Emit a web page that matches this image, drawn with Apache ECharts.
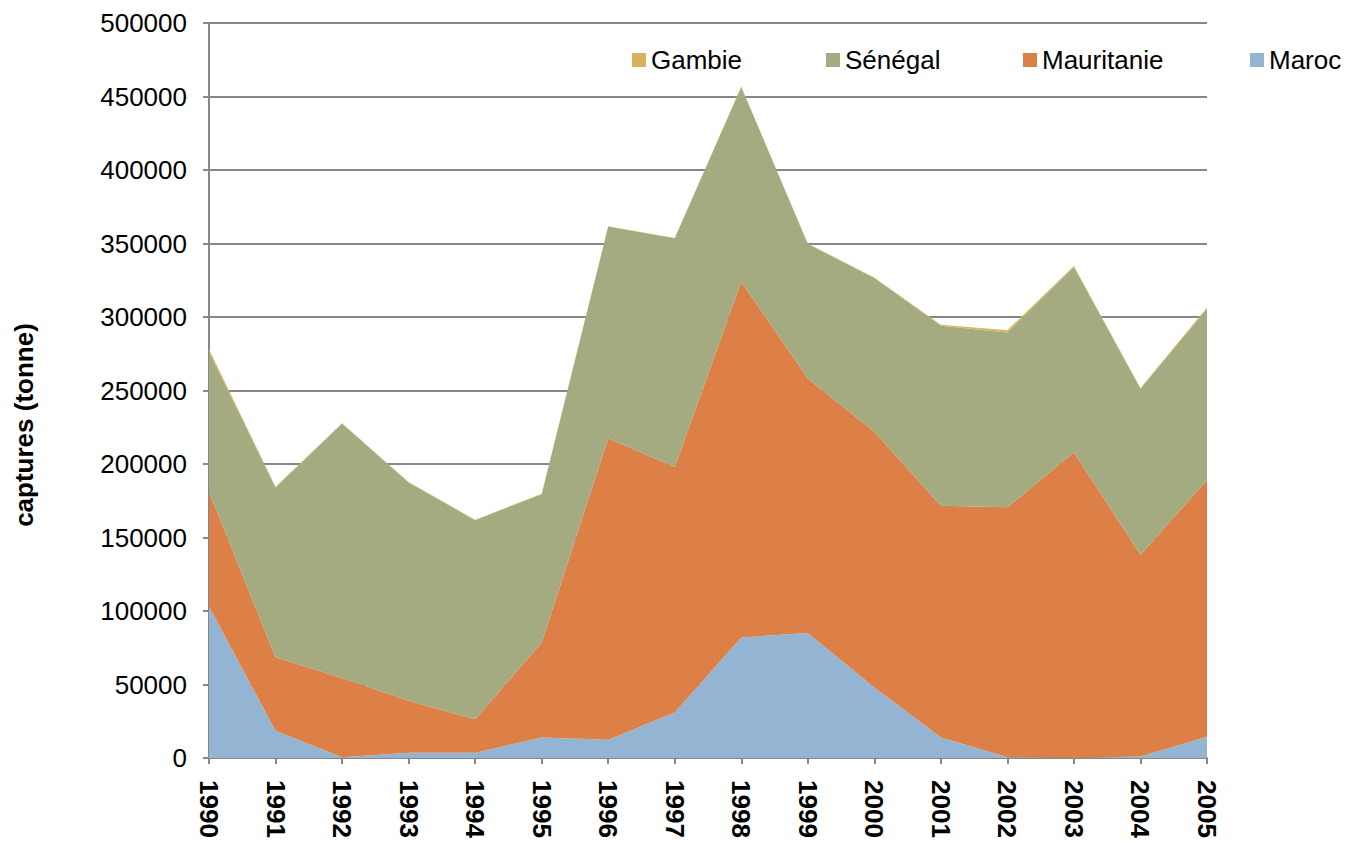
<!DOCTYPE html>
<html>
<head>
<meta charset="utf-8">
<title>captures</title>
<script src="https://cdn.jsdelivr.net/npm/echarts@6/dist/echarts.min.js"></script>
<style>
  html, body { margin: 0; padding: 0; background: #fff; }
  #chart { width: 1350px; height: 846px; }
</style>
</head>
<body>
<div id="chart"></div>
<script>
const years = ['1990', '1991', '1992', '1993', '1994', '1995', '1996', '1997', '1998', '1999', '2000', '2001', '2002', '2003', '2004', '2005']
// tonnes
const maroc = [103000, 18500, 500, 3500, 3500, 14000, 12500, 31000, 82000, 85000, 48000, 14000, 500, 0, 1000, 14500]
const mauritanie = [78000, 50000, 54000, 35500, 22800, 64500, 205000, 167000, 242000, 173200, 174000, 157600, 170000, 208000, 137200, 174600]
const senegal = [95500, 115500, 173000, 148500, 135500, 101000, 144000, 155500, 132500, 91500, 104500, 122500, 119000, 126000, 113000, 116500]
const gambie = [1500, 600, 300, 300, 300, 300, 300, 300, 300, 300, 300, 700, 1500, 700, 500, 800]

const FONT = "'Liberation Sans', Arial, sans-serif"
const GRID_GRAY = '#878787'

const colors = {
  Gambie: '#d8b25c',
  'Sénégal': '#a5ab81',
  Mauritanie: '#dd8047',
  Maroc: '#94b4d3'
}

function areaSeries (name, data) {
  return {
    name: name,
    type: 'line',
    stack: 'total',
    data: data,
    showSymbol: false,
    symbol: 'none',
    lineStyle: { width: 0 },
    itemStyle: { color: colors[name] },
    areaStyle: { color: colors[name], opacity: 1 },
    emphasis: { disabled: true }
  }
}

function legendItem (name, left) {
  return {
    data: [name],
    left: left,
    top: 47,
    padding: 0,
    icon: 'rect',
    itemWidth: 14,
    itemHeight: 14,
    selectedMode: false,
    textStyle: { color: '#000', fontSize: 26, fontFamily: FONT }
  }
}

const chart = echarts.init(document.getElementById('chart'), null, { renderer: 'svg' })

const option = {
  animation: false,
  backgroundColor: '#fff',
  grid: { left: 209, right: 143, top: 23, bottom: 88, containLabel: false },
  legend: [
    legendItem('Gambie', 632),
    legendItem('Sénégal', 826),
    legendItem('Mauritanie', 1023),
    legendItem('Maroc', 1250)
  ],
  graphic: [{
    type: 'text',
    x: 24,
    y: 425,
    rotation: Math.PI / 2,
    style: {
      text: 'captures (tonne)',
      fill: '#000',
      font: 'bold 26px ' + FONT,
      align: 'center',
      verticalAlign: 'middle'
    }
  }],
  xAxis: {
    type: 'category',
    data: years,
    boundaryGap: false,
    axisLine: { lineStyle: { color: GRID_GRAY, width: 2 } },
    axisTick: { show: true, inside: false, length: 6, alignWithLabel: true, lineStyle: { color: GRID_GRAY, width: 2 } },
    axisLabel: {
      interval: 0,
      rotate: -90,
      margin: 22,
      color: '#000',
      fontSize: 26,
      fontWeight: 'bold',
      fontFamily: FONT
    },
    splitLine: { show: false }
  },
  yAxis: {
    type: 'value',
    min: 0,
    max: 500000,
    interval: 50000,
    axisLine: { show: true, lineStyle: { color: GRID_GRAY, width: 2 } },
    axisTick: { show: true, length: 6, lineStyle: { color: GRID_GRAY, width: 2 } },
    axisLabel: {
      margin: 22,
      color: '#000',
      fontSize: 26,
      fontFamily: FONT,
      formatter: function (v) { return String(v) }
    },
    splitLine: { lineStyle: { color: GRID_GRAY, width: 2 } }
  },
  series: [
    areaSeries('Maroc', maroc),
    areaSeries('Mauritanie', mauritanie),
    areaSeries('Sénégal', senegal),
    areaSeries('Gambie', gambie)
  ]
}

chart.setOption(option)
</script>
</body>
</html>
